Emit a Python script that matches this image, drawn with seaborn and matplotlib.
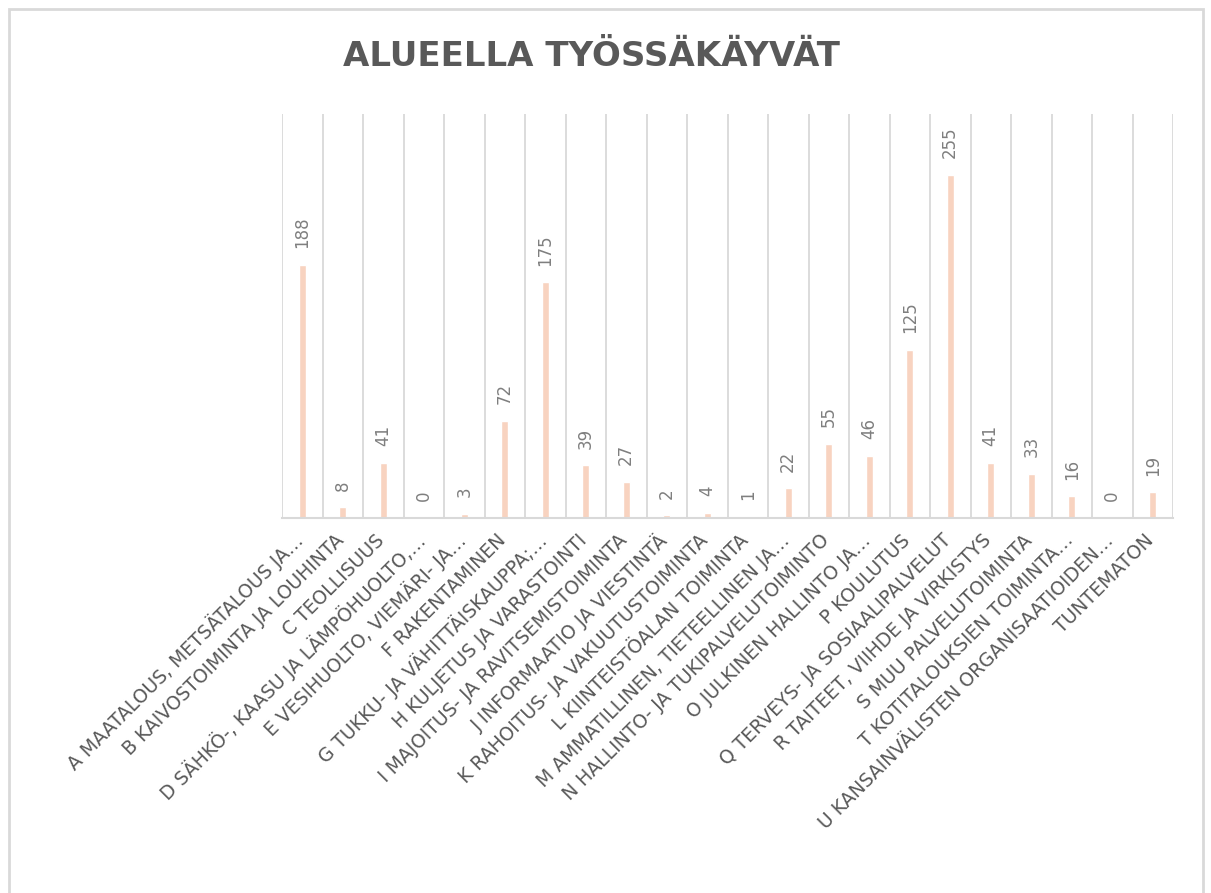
import matplotlib.pyplot as plt
import matplotlib.transforms as mtransforms
import numpy as np
import pandas as pd
import seaborn as sns
from matplotlib.patches import Rectangle

# Data
categories = [
    'A MAATALOUS, METSÄTALOUS JA…',
    'B KAIVOSTOIMINTA JA LOUHINTA',
    'C TEOLLISUUS',
    'D SÄHKÖ-, KAASU JA LÄMPÖHUOLTO,…',
    'E VESIHUOLTO, VIEMÄRI- JA…',
    'F RAKENTAMINEN',
    'G TUKKU- JA VÄHITTÄISKAUPPA;…',
    'H KULJETUS JA VARASTOINTI',
    'I MAJOITUS- JA RAVITSEMISTOIMINTA',
    'J INFORMAATIO JA VIESTINTÄ',
    'K RAHOITUS- JA VAKUUTUSTOIMINTA',
    'L KIINTEISTÖALAN TOIMINTA',
    'M AMMATILLINEN, TIETEELLINEN JA…',
    'N HALLINTO- JA TUKIPALVELUTOIMINTO',
    'O JULKINEN HALLINTO JA…',
    'P KOULUTUS',
    'Q TERVEYS- JA SOSIAALIPALVELUT',
    'R TAITEET, VIIHDE JA VIRKISTYS',
    'S MUU PALVELUTOIMINTA',
    'T KOTITALOUKSIEN TOIMINTA…',
    'U KANSAINVÄLISTEN ORGANISAATIOIDEN…',
    'TUNTEMATON',
]
values = [188, 8, 41, 0, 3, 72, 175, 39, 27, 2, 4, 1, 22, 55, 46, 125, 255, 41, 33, 16, 0, 19]
title = 'ALUEELLA TYÖSSÄKÄYVÄT'

df = pd.DataFrame({'ala': categories, 'tyolliset': values})

sns.set_style('white')
plt.rcParams['font.family'] = ['DejaVu Sans']

fig = plt.figure(figsize=(12.11, 8.93), dpi=100)
ax = fig.add_axes([282 / 1211, 1 - 518 / 893, (1173 - 282) / 1211, (518 - 114) / 893])

sns.barplot(data=df, x='ala', y='tyolliset', color='#F8D3C0', saturation=1, width=0.18, ax=ax)

ax.set_xlim(-0.5, len(categories) - 0.5)
ax.set_ylim(0, 300)

# vertical gridlines between categories
ax.set_xticks(np.arange(-0.5, len(categories)), minor=True)
ax.grid(which='minor', axis='x', color='#D9D9D9', linewidth=1.3)
ax.grid(which='major', axis='y', visible=False)
ax.set_axisbelow(True)
ax.tick_params(which='both', length=0)
ax.set_yticks([])

for s in ['top', 'left', 'right']:
    ax.spines[s].set_visible(False)
ax.spines['bottom'].set_color('#D9D9D9')
ax.spines['bottom'].set_linewidth(1.5)

ax.set_xlabel('')
ax.set_ylabel('')
ax.set_xticks(range(len(categories)))
ax.set_xticklabels(categories, rotation=45, ha='right', va='center',
                   rotation_mode='anchor', fontsize=13.5, color='#595959')
ax.tick_params(axis='x', pad=14)
offset = mtransforms.ScaledTranslation(-2 / 100, 0, fig.dpi_scale_trans)
for lbl in ax.get_xticklabels():
    lbl.set_transform(lbl.get_transform() + offset)

# data labels
for i, v in enumerate(values):
    ax.annotate(str(v), (i, v), xytext=(0, 12), textcoords='offset points',
                rotation=90, ha='center', va='bottom', fontsize=12, color='#7F7F7F')

fig.text(591 / 1211, 1 - 57 / 893, title, ha='center', va='center', fontsize=24.5,
         fontweight='bold', color='#595959')

# chart area border
fig.patches.append(Rectangle((9 / 1211, -0.01), (1203 - 9) / 1211, 1 - 9 / 893 + 0.01,
                             transform=fig.transFigure, fill=False,
                             edgecolor='#D9D9D9', linewidth=2))

fig.savefig('out.png', dpi=100)
